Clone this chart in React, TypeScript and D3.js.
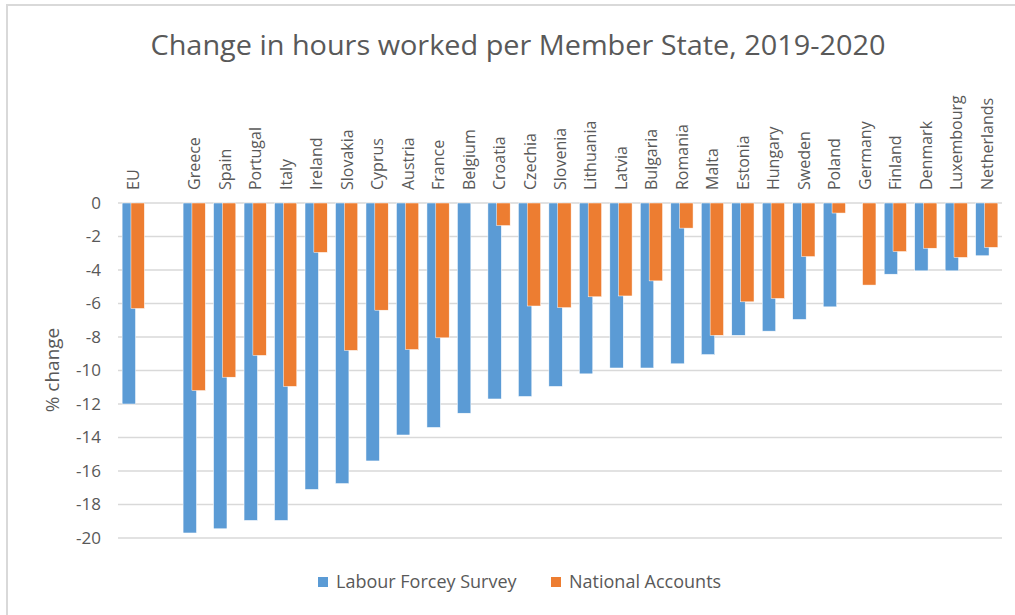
import React, { useEffect, useRef } from "react";
import * as d3 from "d3";

const categories = ["EU", "", "Greece", "Spain", "Portugal", "Italy", "Ireland", "Slovakia", "Cyprus", "Austria", "France", "Belgium", "Croatia", "Czechia", "Slovenia", "Lithuania", "Latvia", "Bulgaria", "Romania", "Malta", "Estonia", "Hungary", "Sweden", "Poland", "Germany", "Finland", "Denmark", "Luxembourg", "Netherlands"];
const labourForceSurvey = [-12.0, null, -19.7, -19.45, -18.95, -18.95, -17.1, -16.75, -15.4, -13.85, -13.4, -12.55, -11.7, -11.55, -10.95, -10.2, -9.85, -9.85, -9.6, -9.05, -7.9, -7.65, -6.95, -6.2, 0, -4.25, -4.05, -4.05, -3.15];
const nationalAccounts = [-6.3, null, -11.2, -10.4, -9.1, -10.95, -2.95, -8.8, -6.4, -8.75, -8.05, 0, -1.35, -6.15, -6.25, -5.6, -5.55, -4.65, -1.5, -7.9, -5.9, -5.7, -3.2, -0.6, -4.9, -2.9, -2.7, -3.25, -2.65];
const yTicks = [0, -2, -4, -6, -8, -10, -12, -14, -16, -18, -20];
const seriesNames = ["Labour Forcey Survey", "National Accounts"];

const W = 1015, H = 615;
const FONT = "'Open Sans', sans-serif";
const TEXT = "#595959";
const BLUE = "#5b9bd5";
const ORANGE = "#ed7d31";

export default function App() {
    const svgRef = useRef(null);

    useEffect(() => {
        const svg = d3.select(svgRef.current);
        svg.selectAll("*").remove();

        // chart frame
        svg.append("rect").attr("x", 7).attr("y", 5).attr("width", W + 10).attr("height", H + 10)
            .attr("fill", "white").attr("stroke", "#d9d9d9").attr("stroke-width", 2);

        var x = d3.scaleBand().domain(categories.map((c, i) => String(i))).range([118, 1002]);
        var y = d3.scaleLinear().domain([-20, 0]).range([538, 203]);
        var bw = x.bandwidth();
        var groupW = bw * 0.73, barW = bw * 0.44;

        // title
        svg.append("text").attr("x", 518).attr("y", 55).attr("text-anchor", "middle")
            .style("font-family", FONT).style("font-size", "28px").attr("fill", TEXT)
            .attr("textLength", 735).attr("lengthAdjust", "spacingAndGlyphs")
            .text("Change in hours worked per Member State, 2019-2020");

        // gridlines + tick labels
        const g = svg.append("g");
        g.selectAll(".grid").data(yTicks).enter().append("line")
            .attr("x1", 118).attr("x2", 1002)
            .attr("y1", d => y(d)).attr("y2", d => y(d))
            .attr("stroke", "#d9d9d9").attr("stroke-width", 1.5);
        g.selectAll(".tick").data(yTicks).enter().append("text")
            .attr("x", 101).attr("y", d => y(d)).attr("dy", "0.35em").attr("text-anchor", "end")
            .style("font-family", FONT).style("font-size", "17px").attr("fill", TEXT)
            .text(d => d);

        svg.append("text").attr("transform", "translate(59,370) rotate(-90)").attr("text-anchor", "middle")
            .style("font-family", FONT).style("font-size", "19px").attr("fill", TEXT)
            .text("% change");

        // bars
        const cx = (i) => x(String(i)) + bw / 2;
        const bar = (vals, color, offset, cls) => {
            g.selectAll("." + cls).data(vals.map((v, i) => ({ v, i })).filter(d => d.v !== null && d.v !== 0))
                .enter().append("rect")
                .attr("class", cls)
                .attr("x", d => cx(d.i) + offset)
                .attr("y", y(0))
                .attr("width", barW)
                .attr("height", d => y(d.v) - y(0))
                .attr("fill", color)
                .attr("stroke", "#ffffff").attr("stroke-width", 0.5);
        };
        bar(labourForceSurvey, BLUE, -groupW / 2, "lfs");
        bar(nationalAccounts, ORANGE, groupW / 2 - barW, "na");

        // category labels
        g.selectAll(".cat").data(categories).enter().append("text")
            .attr("class", "cat")
            .attr("transform", (d, i) => `translate(${cx(i) + 6},190) rotate(-90)`)
            .attr("text-anchor", "start")
            .style("font-family", FONT).style("font-size", "16px").attr("fill", TEXT)
            .text(d => d);

        // legend
        const leg = svg.append("g");
        [[318, BLUE], [551, ORANGE]].forEach(([lx, c], i) => {
            leg.append("rect").attr("x", lx).attr("y", 577).attr("width", 10).attr("height", 10).attr("fill", c);
            leg.append("text").attr("x", lx + 18).attr("y", 582).attr("dy", "0.35em")
                .style("font-family", FONT).style("font-size", "18px").attr("fill", TEXT)
                .text(seriesNames[i]);
        });
    }, []);

    return (
        <svg ref={svgRef} width={W} height={H} style={{ position: "absolute", left: 0, top: 0 }} />
    );
}
